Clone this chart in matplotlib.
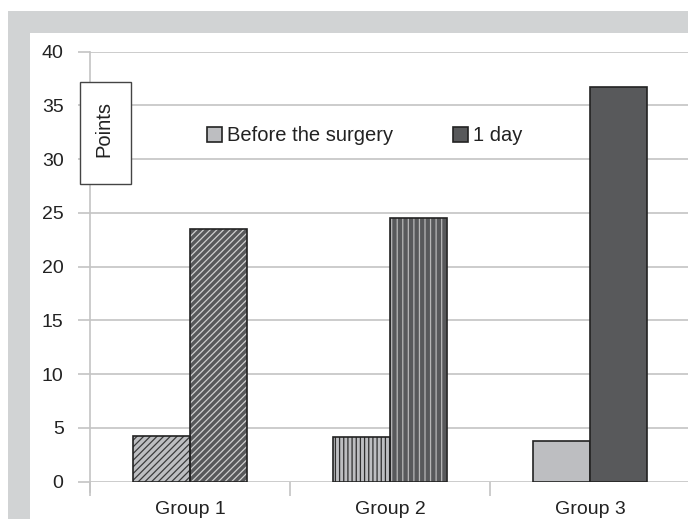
import matplotlib
matplotlib.use("Agg")
import matplotlib.pyplot as plt
from matplotlib.patches import Rectangle, Patch
import numpy as np

plt.rcParams['font.family'] = ['Liberation Sans', 'DejaVu Sans']
plt.rcParams['hatch.linewidth'] = 0.9

categories = ["Group 1", "Group 2", "Group 3"]
before = [4.2, 4.1, 3.8]
one_day = [23.5, 24.5, 36.7]
series_names = ["Before the surgery", "1 day"]
yticks = [0, 5, 10, 15, 20, 25, 30, 35, 40]

LIGHT = "#bdbec1"
DARK = "#58595b"
hatches_before = ["/////", "||||", None]
hatches_day = ["/////", "|||", None]
hatchcol_before = ["#3a3a3a", "#2e2e2e", None]
hatchcol_day = ["#d0d0d0", "#b8b8b8", None]

W, H = 688, 519
fig = plt.figure(figsize=(W / 100, H / 100), dpi=100)

# gray frame background
fig.patches.append(Rectangle((8 / W, 0), 1, 1 - 11 / H, transform=fig.transFigure,
                             facecolor="#d1d3d4", edgecolor="none", zorder=-10))
fig.patches.append(Rectangle((30 / W, 0), 1, 1 - 33 / H, transform=fig.transFigure,
                             facecolor="white", edgecolor="none", zorder=-9))

ax = fig.add_axes([90 / W, (H - 481.5) / H, 600 / W, (481.5 - 51.7) / H])
ax.set_facecolor("none")

x = np.arange(len(categories))
bw = 0.285
for i in range(len(categories)):
    for vals, off, fc, hat, hc in [(before, -bw / 2, LIGHT, hatches_before[i], hatchcol_before[i]),
                                   (one_day, bw / 2, DARK, hatches_day[i], hatchcol_day[i])]:
        if hat:
            ax.bar(x[i] + off, vals[i], bw, facecolor=fc, edgecolor=hc, hatch=hat,
                   linewidth=0, zorder=3)
            ax.bar(x[i] + off, vals[i], bw, facecolor="none", edgecolor="#222222",
                   linewidth=1.2, zorder=4)
        else:
            ax.bar(x[i] + off, vals[i], bw, facecolor=fc, edgecolor="#222222",
                   linewidth=1.2, zorder=3)

ax.set_xlim(-0.5, 2.5)
ax.set_ylim(0, 40)
ax.set_yticks(yticks)
ax.set_yticklabels([str(t) for t in yticks], fontsize=14, color="#222222")
ax.yaxis.grid(True, color="#c4c4c4", linewidth=1.2, zorder=0)
ax.tick_params(axis="y", length=9, color="#c4c4c4", width=1.2, pad=10)
ax.set_xticks(x)
ax.set_xticklabels(categories, fontsize=14, color="#222222")
ax.tick_params(axis="x", which="major", length=0, pad=14)
ax.set_xticks([-0.5, 0.5, 1.5, 2.5], minor=True)
ax.tick_params(axis="x", which="minor", length=10, color="#c4c4c4", width=1.2)
for s in ["top", "right", "bottom"]:
    ax.spines[s].set_visible(False)
ax.spines["left"].set_color("#c4c4c4")
ax.spines["left"].set_linewidth(1.2)
ax.spines["left"].set_bounds(-1.0, 40)
ax.spines["left"].set_clip_on(False)

handles = [Patch(facecolor=LIGHT, edgecolor="#222222", linewidth=1.2),
           Patch(facecolor=DARK, edgecolor="#222222", linewidth=1.2)]
fig.legend(handles, series_names, loc="center left", ncol=2, frameon=False,
           bbox_to_anchor=(207 / W, 1 - 136 / H), fontsize=14.5,
           borderpad=0, borderaxespad=0,
           handlelength=0.75, handleheight=0.75, handletextpad=0.25,
           columnspacing=2.95, labelcolor="#222222")

# "Points" box
fig.patches.append(Rectangle((80 / W, 1 - 184 / H), 51 / W, 102 / H, transform=fig.transFigure,
                             facecolor="white", edgecolor="#444444", linewidth=1.0, zorder=5))
fig.text(104 / W, 1 - 129 / H, "Points", rotation=90, ha="center", va="center",
         fontsize=14.5, color="#222222", zorder=6)

fig.savefig("out.png", dpi=100)
